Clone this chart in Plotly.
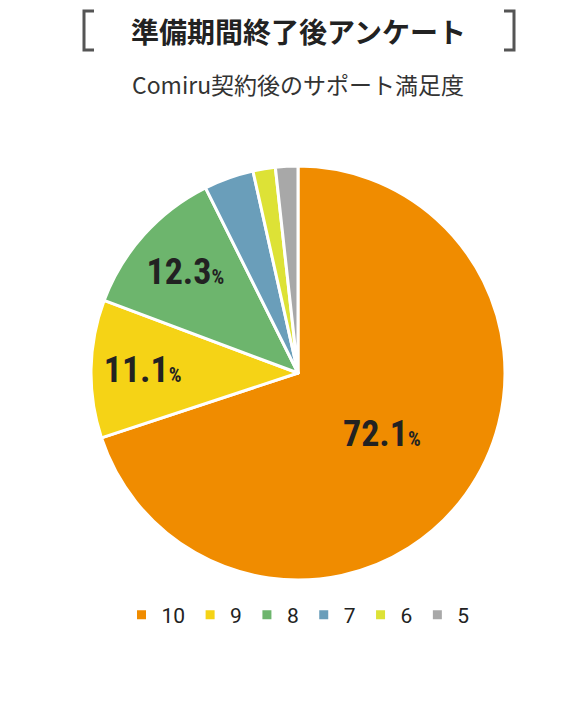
import plotly.graph_objects as go

scores = ["10", "9", "8", "7", "6", "5"]
shares = [72.1, 11.1, 12.3, 4.0, 1.8, 1.8]
shown = [True, True, True, False, False, False]
colors = ["#F08C00", "#F5D316", "#6DB56D", "#6A9EBA", "#DDE236", "#A8A8A8"]

labels_txt = [
    f"<b>{v}<span style='font-size:20px'>%</span></b>" if s else ""
    for v, s in zip(shares, shown)
]

W, H = 580, 714

fig = go.Figure(go.Pie(
    labels=scores,
    values=shares,
    sort=False,
    direction="clockwise",
    rotation=0,
    text=labels_txt,
    texttemplate="%{text}",
    textposition="inside",
    insidetextorientation="horizontal",
    textfont=dict(size=36, color="#222222", family="Roboto Condensed, Roboto"),
    marker=dict(colors=colors, line=dict(color="white", width=3)),
    domain=dict(x=[0, 1], y=[1 - 572 / H, 1 - 158 / H]),
    hoverinfo="label+percent",
))


def px(x, y):
    return f"{x / W},{1 - y / H}"


shapes = [
    dict(type="path", xref="paper", yref="paper",
         path=f"M{px(86, 3)} L{px(76, 3)} L{px(76, 42)} L{px(86, 42)}",
         line=dict(color="#555555", width=3)),
    dict(type="path", xref="paper", yref="paper",
         path=f"M{px(496, 3)} L{px(506, 3)} L{px(506, 42)} L{px(496, 42)}",
         line=dict(color="#555555", width=3)),
]

fig.update_layout(
    width=W, height=H,
    margin=dict(l=0, r=0, t=0, b=0),
    paper_bgcolor="white",
    plot_bgcolor="white",
    font=dict(family="Noto Sans CJK JP", color="#222222"),
    shapes=shapes,
    annotations=[
        dict(text="<b>準備期間終了後アンケート</b>", x=0.5, y=1 - 1 / H,
             xref="paper", yref="paper", showarrow=False,
             font=dict(size=28, color="#222222")),
        dict(text="Comiru契約後のサポート満足度", x=0.5, y=1 - 57 / H,
             xref="paper", yref="paper", showarrow=False,
             font=dict(size=23, color="#333333")),
    ],
    legend=dict(orientation="h", x=0.5, xanchor="center", y=1 - 607 / H,
                yanchor="middle", traceorder="normal",
                font=dict(size=21, family="Roboto", color="#222222"),
                itemwidth=30),
    showlegend=True,
)

fig.write_html("out.html")
